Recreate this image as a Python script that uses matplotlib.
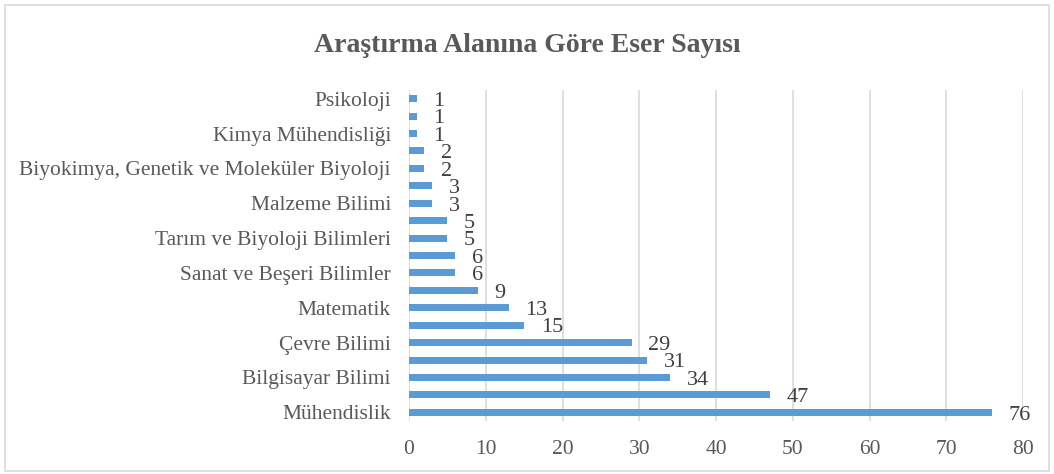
import numpy as np
import matplotlib.pyplot as plt
from matplotlib.patches import Rectangle

# bottom to top, as in the chart
values = [76, 47, 34, 31, 29, 15, 13, 9, 6, 6, 5, 5, 3, 3, 2, 2, 1, 1, 1]
labels = ['Mühendislik', '', 'Bilgisayar Bilimi', '', 'Çevre Bilimi', '',
          'Matematik', '', 'Sanat ve Beşeri Bilimler', '',
          'Tarım ve Biyoloji Bilimleri', '', 'Malzeme Bilimi', '',
          'Biyokimya, Genetik ve Moleküler Biyoloji', '',
          'Kimya Mühendisliği', '', 'Psikoloji']
xticks = [0, 10, 20, 30, 40, 50, 60, 70, 80]

plt.rcParams['font.family'] = ['Liberation Serif', 'DejaVu Serif']

fig = plt.figure(figsize=(10.54, 4.74), dpi=100)
ax = fig.add_axes([409 / 1054, 1 - 421 / 474, (1023 - 409) / 1054, (421 - 90) / 474])

y = np.arange(len(values))
ax.barh(y, values, height=0.4, color='#5b9bd5', zorder=3)
for yi, v in zip(y, values):
    ax.annotate(str(v), (v, yi), xytext=(12, -2), textcoords='offset points',
                ha='left', va='center', fontsize=16, color='#404040')

ax.set_xlim(0, 80)
ax.set_ylim(-0.5, len(values) - 0.5)
ax.set_xticks(xticks)
ax.set_yticks(y)
ax.set_yticklabels(labels)
ax.tick_params(axis='both', length=0, labelsize=15.5, colors='#595959')
ax.tick_params(axis='x', pad=14)
ax.tick_params(axis='y', pad=13)
ax.grid(axis='x', color='#d9d9d9', linewidth=1.2, zorder=0)
for s in ax.spines.values():
    s.set_visible(False)

fig.text(0.5, 1 - 45 / 474, 'Araştırma Alanına Göre Eser Sayısı', ha='center', va='center',
         fontsize=20, fontweight='bold', color='#595959')

fig.patches.append(Rectangle((5 / 1054, 3 / 474), 1044 / 1054, 466 / 474, transform=fig.transFigure,
                             fill=False, edgecolor='#d9d9d9', linewidth=1.2))

fig.savefig('out.png', dpi=100)
